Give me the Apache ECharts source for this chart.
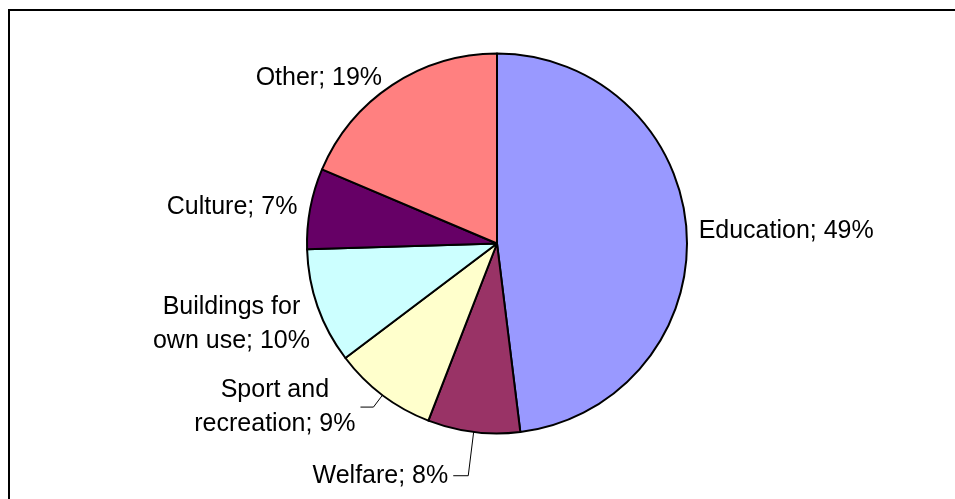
<!DOCTYPE html>
<html>
<head>
<meta charset="utf-8">
<script src="https://cdn.jsdelivr.net/npm/echarts@6/dist/echarts.min.js"></script>
<style>
  html, body { margin: 0; padding: 0; background: #fff; }
  #chart { width: 955px; height: 499px; }
</style>
</head>
<body>
<div id="chart"></div>
<script>
// Share of spending by purpose (percent), clockwise from 12 o'clock
const categories = ['Education', 'Welfare', 'Sport and\nrecreation', 'Buildings for\nown use', 'Culture', 'Other'];
const shares = [49, 8, 9, 10, 7, 19];
const sliceColors = ['#9999FF', '#993366', '#FFFFCC', '#CCFFFF', '#660066', '#FF8080'];

// Leader line settings per slice: [show, radial length, horizontal length, extra top padding]
const leaders = [
  [false, 7, 0, 0],
  [true, 44, 15, 0],
  [true, 15, 13, 0],
  [false, 3, 0, 32],
  [false, 8, 0, 0],
  [false, 9, 0, 0]
];

const FONT = '"Liberation Sans", Arial, sans-serif';

const chart = echarts.init(document.getElementById('chart'), null, { renderer: 'canvas' });

chart.setOption({
  backgroundColor: '#ffffff',
  animation: false,
  graphic: [{
    type: 'rect',
    shape: { x: 9, y: 10, width: 1000, height: 600 },
    style: { fill: 'none', stroke: '#000', lineWidth: 2 },
    silent: true,
    z: 0
  }],
  series: [{
    type: 'pie',
    center: [497, 243.5],
    radius: 190,
    startAngle: 90,
    clockwise: true,
    avoidLabelOverlap: false,
    minShowLabelAngle: 0,
    emphasis: { disabled: true },
    itemStyle: { borderColor: '#000', borderWidth: 2 },
    label: {
      show: true,
      position: 'outside',
      distanceToLabelLine: 5,
      color: '#000',
      fontFamily: FONT,
      fontSize: 25,
      formatter: function (p) {
        const text = p.name + '; ' + p.value + '%';
        return text.split('\n').map(function (l) { return '{c|' + l + '}'; }).join('\n');
      },
      rich: {
        c: { align: 'center', fontFamily: FONT, fontSize: 25, lineHeight: 34, color: '#000' }
      }
    },
    labelLine: {
      smooth: false,
      lineStyle: { color: '#000', width: 1 }
    },
    data: categories.map(function (name, i) {
      return {
        name: name,
        value: shares[i],
        itemStyle: { color: sliceColors[i] },
        label: { padding: [leaders[i][3], 0, 0, 0] },
        labelLine: { show: leaders[i][0], length: leaders[i][1], length2: leaders[i][2] }
      };
    })
  }]
});
</script>
</body>
</html>
